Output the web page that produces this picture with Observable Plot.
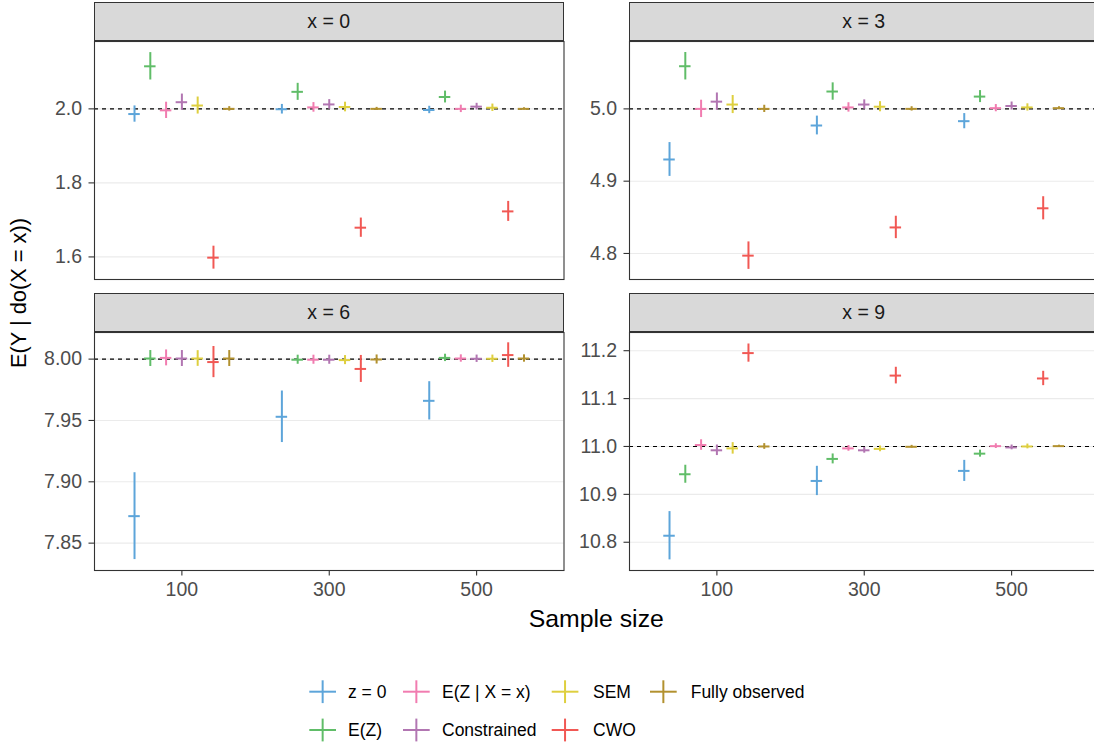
<!DOCTYPE html>
<html>
<head>
<meta charset="utf-8">
<script src="https://cdn.jsdelivr.net/npm/d3@7"></script>
<script src="https://cdn.jsdelivr.net/npm/@observablehq/plot@0.6"></script>
<style>
  html, body { margin: 0; padding: 0; background: #fff; }
  body { font-family: "Liberation Sans", Arial, Helvetica, sans-serif; }
  #root { position: relative; width: 1094px; height: 748px; overflow: hidden; background: #fff; }
  .panel { position: absolute; }
  .strip { position: absolute; background: #D9D9D9; border: 1.1px solid #333333; box-sizing: border-box;
           display: flex; align-items: center; justify-content: center; color: #1A1A1A; font-size: 19.5px; }
  .title { position: absolute; color: #000; font-size: 23px; white-space: nowrap; }
  g[aria-label$="-axis tick label"] { fill: #4D4D4D; }
  g[aria-label$="-axis tick"] { stroke: #333333; }
</style>
</head>
<body>
<div id="root"></div>
<script>
// ---------------- data ----------------
const methods = ["z = 0", "E(Z)", "E(Z | X = x)", "Constrained", "SEM", "CWO", "Fully observed"];
const methodColors = ["#5DA5DA", "#60BD68", "#F17CB0", "#B276B2", "#DECF3F", "#F15854", "#B2912F"];
const sampleSizes = [100, 300, 500];
const panelLabels = ["x = 0", "x = 3", "x = 6", "x = 9"];
const trueValues = [2, 5, 8, 11];

// estimates, one row per sample size, in method order
const est_x0 = [
  [1.986, 2.115, 1.996, 2.018, 2.009, 1.598, 2.000],
  [1.999, 2.046, 2.004, 2.012, 2.005, 1.679, 2.000],
  [1.997, 2.032, 2.000, 2.006, 2.003, 1.723, 2.000]
];
const err_x0 = [
  [0.022, 0.037, 0.022, 0.022, 0.023, 0.031, 0.006],
  [0.013, 0.023, 0.013, 0.013, 0.013, 0.026, 0.004],
  [0.010, 0.016, 0.010, 0.009, 0.010, 0.027, 0.003]
];
const est_x3 = [
  [4.930, 5.059, 5.000, 5.010, 5.006, 4.797, 5.000],
  [4.977, 5.024, 5.002, 5.006, 5.003, 4.836, 5.000],
  [4.983, 5.017, 5.001, 5.004, 5.002, 4.8625, 5.001]
];
const err_x3 = [
  [0.0234, 0.019, 0.012, 0.012, 0.0125, 0.019, 0.005],
  [0.013, 0.012, 0.0065, 0.0065, 0.007, 0.0155, 0.003],
  [0.0105, 0.0083, 0.005, 0.0055, 0.005, 0.016, 0.002]
];
const est_x6 = [
  [7.872, 8.0005, 8.001, 8.0005, 8.0005, 7.9976, 8.0005],
  [7.953, 7.9995, 7.9995, 7.9995, 7.9992, 7.992, 7.9997],
  [7.966, 8.001, 8.0005, 8.0003, 8.0003, 8.0033, 8.0005]
];
const err_x6 = [
  [0.0354, 0.0065, 0.0065, 0.0065, 0.0064, 0.0127, 0.0065],
  [0.021, 0.0037, 0.0037, 0.0037, 0.0037, 0.011, 0.0037],
  [0.0156, 0.003, 0.003, 0.003, 0.003, 0.010, 0.003]
];
const est_x9 = [
  [10.8136, 10.942, 11.003, 10.992, 10.996, 11.195, 11.000],
  [10.928, 10.974, 10.996, 10.992, 10.995, 11.148, 10.9993],
  [10.949, 10.985, 11.0007, 10.998, 11.000, 11.142, 11.0007]
];
const err_x9 = [
  [0.0504, 0.0188, 0.011, 0.011, 0.012, 0.019, 0.006],
  [0.0306, 0.0104, 0.006, 0.006, 0.006, 0.0174, 0.003],
  [0.022, 0.0073, 0.005, 0.005, 0.005, 0.015, 0.002]
];

const yTicks_x0 = [1.6, 1.8, 2.0];
const yTicks_x3 = [4.8, 4.9, 5.0];
const yTicks_x6 = [7.85, 7.90, 7.95, 8.00];
const yTicks_x9 = [10.8, 10.9, 11.0, 11.1, 11.2];
const xTicks = [100, 300, 500];

// ---------------- layout ----------------
const estimates = [est_x0, est_x3, est_x6, est_x9];
const errors = [err_x0, err_x3, err_x6, err_x9];
const yTicks = [yTicks_x0, yTicks_x3, yTicks_x6, yTicks_x9];
const yFormats = [d3.format(".1f"), d3.format(".1f"), d3.format(".2f"), d3.format(".1f")];
const yDomains = [[1.539, 2.182], [4.764, 5.0932], [7.8277, 8.0217], [10.741, 11.238]];
const xDomain = [-18.6, 618.6];
const dodgeStep = 150 / 7;
const capHalf = 7.8;

const PW = 469.5, PH = 238;
const panelBoxes = [
  {left: 94, top: 41.3, stripTop: 1.5, showX: false},
  {left: 629, top: 41.3, stripTop: 1.5, showX: false},
  {left: 94, top: 332.4, stripTop: 292.7, showX: true},
  {left: 629, top: 332.4, stripTop: 292.7, showX: true}
];

const root = document.getElementById("root");
const FONT = '"Liberation Sans", Arial, Helvetica, sans-serif';

panelBoxes.forEach((box, k) => {
  const rows = [];
  sampleSizes.forEach((n, j) => {
    methods.forEach((m, i) => {
      const e = estimates[k][j][i], s = errors[k][j][i];
      const xp = n + (i - 3) * dodgeStep;
      rows.push({method: m, n, xp, xl: xp - capHalf, xr: xp + capHalf, est: e, lo: e - s, hi: e + s});
    });
  });
  const ml = 70, mr = 6, mt = 6, mb = box.showX ? 40 : 6;
  const chart = Plot.plot({
    width: PW + ml + mr,
    height: PH + mt + mb,
    marginLeft: ml, marginRight: mr, marginTop: mt, marginBottom: mb,
    style: {background: "transparent", fontFamily: FONT, overflow: "visible"},
    x: {domain: xDomain, axis: null},
    y: {domain: yDomains[k], axis: null},
    color: {domain: methods, range: methodColors},
    marks: [
      Plot.ruleY(yTicks[k], {stroke: "#EBEBEB", strokeWidth: 1.1}),
      Plot.ruleY([trueValues[k]], {stroke: "#000000", strokeWidth: 1.1, strokeDasharray: "4,4"}),
      Plot.ruleX(rows, {x: "xp", y1: "lo", y2: "hi", stroke: "method", strokeWidth: 2}),
      Plot.ruleY(rows, {y: "est", x1: "xl", x2: "xr", stroke: "method", strokeWidth: 2}),
      Plot.frame({stroke: "#333333", strokeWidth: 1.1}),
      Plot.axisY({ticks: yTicks[k], tickFormat: yFormats[k], tickSize: 5.5, tickPadding: 7,
                  fontSize: 19.5, stroke: "#333333", strokeWidth: 1.1, label: null}),
      box.showX ? Plot.axisX({ticks: xTicks, tickFormat: d3.format("d"), tickSize: 5.5, tickPadding: 6,
                  fontSize: 19.5, stroke: "#333333", strokeWidth: 1.1, label: null}) : null
    ]
  });
  chart.classList.add("panel");
  chart.style.left = (box.left - ml) + "px";
  chart.style.top = (box.top - mt) + "px";
  root.appendChild(chart);

  const strip = document.createElement("div");
  strip.className = "strip";
  strip.style.left = box.left + "px";
  strip.style.top = box.stripTop + "px";
  strip.style.width = PW + "px";
  strip.style.height = (box.top - box.stripTop) + "px";
  strip.textContent = panelLabels[k];
  root.appendChild(strip);
});

// axis titles
const xTitle = document.createElement("div");
xTitle.className = "title";
xTitle.textContent = "Sample size";
xTitle.style.fontSize = "24.8px";
xTitle.style.left = "596.3px";
xTitle.style.top = "619px";
xTitle.style.transform = "translate(-50%, -50%)";
root.appendChild(xTitle);

const yTitle = document.createElement("div");
yTitle.className = "title";
yTitle.textContent = "E(Y | do(X = x))";
yTitle.style.fontSize = "21.8px";
yTitle.style.left = "19px";
yTitle.style.top = "292.5px";
yTitle.style.transform = "translate(-50%, -50%) rotate(-90deg)";
root.appendChild(yTitle);

// legend (column-major, 2 rows)
const legendKeyX = [309.3, 403, 551.7, 650];
const legendTextX = [348, 442, 593, 690.7];
const legendRowY = [691.7, 730];
const leg = d3.select(root).append("svg")
  .attr("width", 1094).attr("height", 748)
  .style("position", "absolute").style("left", "0px").style("top", "0px")
  .style("font-family", FONT);
methods.forEach((m, i) => {
  const col = Math.floor(i / 2), row = i % 2;
  const cx = legendKeyX[col] + 13.35, cy = legendRowY[row];
  const g = leg.append("g");
  g.append("line").attr("x1", legendKeyX[col]).attr("x2", legendKeyX[col] + 26.7)
    .attr("y1", cy).attr("y2", cy).attr("stroke", methodColors[i]).attr("stroke-width", 2);
  g.append("line").attr("x1", cx).attr("x2", cx)
    .attr("y1", cy - 11.4).attr("y2", cy + 11.4).attr("stroke", methodColors[i]).attr("stroke-width", 2);
  g.append("text").attr("x", legendTextX[col]).attr("y", cy).attr("dy", "0.35em")
    .attr("font-size", 17.5).attr("fill", "#000").text(m);
});
</script>
</body>
</html>
